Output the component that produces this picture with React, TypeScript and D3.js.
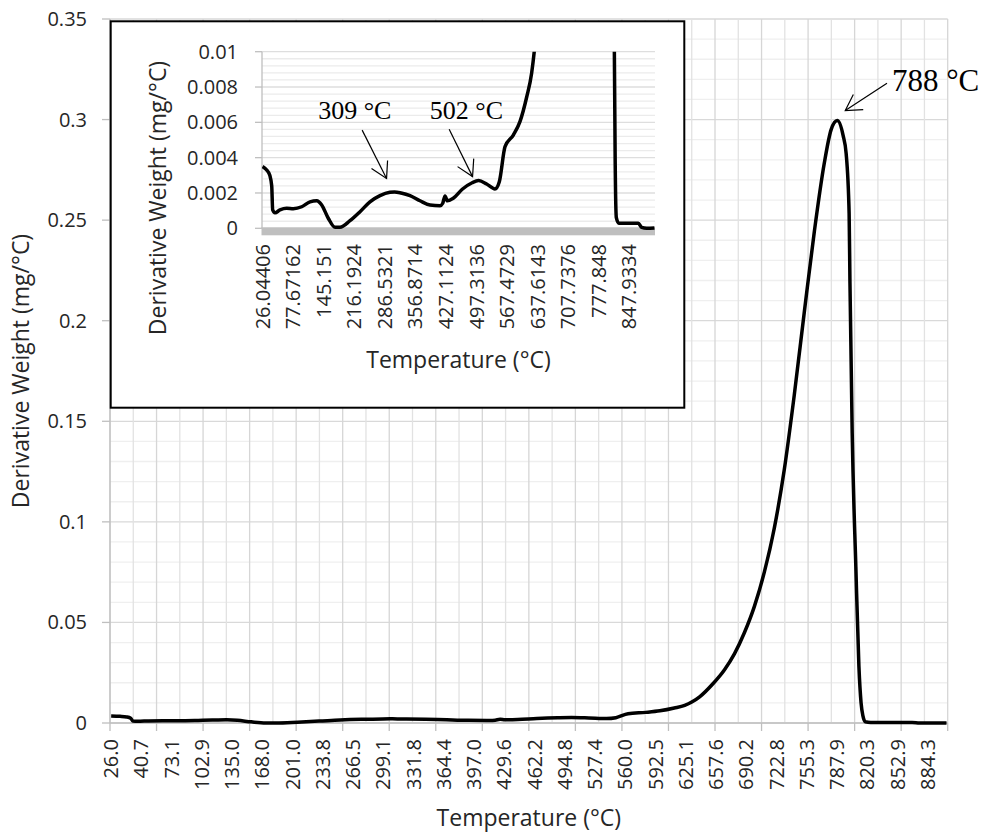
import React from "react";
import * as d3 from "d3";

// DTG curve: temperature (°C) and derivative weight (mg/°C)
const temperature = [
  26.0, 30.3, 33.5, 35.5, 36.5, 38.9, 48.2, 63.4, 78.1, 95.8, 114.0, 129.1, 140.6, 155.8,
  171.6, 183.0, 206.3, 229.5, 252.4, 275.5, 298.3, 309, 324.0, 344.6, 367.4, 390.5, 413.6,
  419.7, 425.0, 430.1, 443.9, 464.5, 487.3, 502, 520.6, 539.7, 549.7, 562.8, 581.8, 597.0,
  612.6, 623.8, 631.4, 639.8, 654.1, 666.6, 677.4, 688.1, 698.8, 709.5, 720.3, 731.0, 741.7,
  752.4, 763.2, 773.9, 781.4, 788, 794.3, 797.5, 800.7, 801.6, 804.0, 807.9, 811.2, 813.5,
  815.5, 818, 823.8, 867.9, 875.4, 886.5, 903.6,
];
const derivWeight = [
  0.0035, 0.0033, 0.003, 0.0024, 0.00104, 0.00088, 0.00104, 0.00113, 0.00111, 0.00122,
  0.0015, 0.00156, 0.00132, 0.00057, 0.00006, 0.00006, 0.00043, 0.00094, 0.0015, 0.00185,
  0.00204, 0.00206, 0.002, 0.00185, 0.00156, 0.00132, 0.00128, 0.00142, 0.00183, 0.00156,
  0.0017, 0.00221, 0.00258, 0.0027, 0.00251, 0.00223, 0.00264, 0.00462, 0.00528, 0.00604,
  0.00745, 0.00878, 0.0104, 0.013, 0.0195, 0.0265, 0.0345, 0.045, 0.058, 0.075, 0.097,
  0.126, 0.163, 0.204, 0.244, 0.278, 0.295, 0.2995, 0.292, 0.2832, 0.2534, 0.2187, 0.144,
  0.0777, 0.028, 0.01, 0.0035, 0.0006, 0.00028, 0.00028, 0.00005, 0, 0.00002,
];

// Category axis: 360 readings, main chart labels every 13th reading
const readingCount = 360;
const mainLabelStep = 13;
const mainTickStep = 20;
const mainGridStep = 10;
const mainTickTemps = [
  26.0, 40.7, 73.1, 102.9, 135.0, 168.0, 201.0, 233.8, 266.5, 299.1, 331.8, 364.4, 397.0,
  429.6, 462.2, 494.8, 527.4, 560.0, 592.5, 625.1, 657.6, 690.2, 722.8, 755.3, 787.9, 820.3,
  852.9, 884.3,
];
const mainTickLabels = mainTickTemps.map((t) => t.toFixed(1));
const mainYTicks = [0, 0.05, 0.1, 0.15, 0.2, 0.25, 0.3, 0.35];
const mainYLabels = ["0", "0.05", "0.1", "0.15", "0.2", "0.25", "0.3", "0.35"];

// Inset: labels every 28th reading
const insetLabelStep = 28;
const insetTickLabels = [
  "26.04406", "77.67162", "145.151", "216.1924", "286.5321", "356.8714", "427.1124",
  "497.3136", "567.4729", "637.6143", "707.7376", "777.848", "847.9334",
];
const insetYTicks = [0, 0.002, 0.004, 0.006, 0.008, 0.01];
const insetYLabels = ["0", "0.002", "0.004", "0.006", "0.008", "0.01"];

// Peak annotations
const peakTemps = [309, 502, 788];
const peakLabels = ["309 °C", "502 °C", "788 °C"];

const W = 985;
const H = 835;
const SANS = "'Open Sans', 'Noto Sans', sans-serif";
const SERIF = "'Liberation Serif', 'DejaVu Serif', serif";
const TEXT = "#262626";

function Arrow({ x0, y0, x1, y1 }: { x0: number; y0: number; x1: number; y1: number }) {
  const ang = Math.atan2(y0 - y1, x0 - x1);
  const len = 18;
  const spread = (30 * Math.PI) / 180;
  const a = [ang - spread, ang + spread].map((t) => [x1 + len * Math.cos(t), y1 + len * Math.sin(t)]);
  return (
    <g stroke="#000" strokeWidth={1.2} fill="none">
      <line x1={x0} y1={y0} x2={x1} y2={y1} />
      <polyline points={`${a[0][0]},${a[0][1]} ${x1},${y1} ${a[1][0]},${a[1][1]}`} />
    </g>
  );
}

export default function App() {
  const points = temperature.map((t, i) => ({ t, v: derivWeight[i] }));

  // temperature -> reading index (piecewise through the labelled readings)
  const toIndex = d3
    .scaleLinear()
    .domain(mainTickTemps)
    .range(mainTickTemps.map((_, i) => i * mainLabelStep));

  // ---- main plot scales
  const mLeft = 110, mRight = 947.7, mTop = 19, mBottom = 723;
  const xMain = d3.scaleLinear().domain([0, readingCount]).range([mLeft, mRight]);
  const yMain = d3.scaleLinear().domain([0, 0.35]).range([mBottom, mTop]);
  const mainLine = d3
    .line<{ t: number; v: number }>()
    .x((d) => xMain(toIndex(d.t) + 0.5))
    .y((d) => yMain(d.v))
    .curve(d3.curveMonotoneX);

  // ---- inset scales
  const iLeft = 262, iRight = 655, iTop = 51.7, iBottom = 228.3;
  const xIn = d3.scaleLinear().domain([0, readingCount]).range([iLeft, iRight]);
  const yIn = d3.scaleLinear().domain([0, 0.01]).range([iBottom, iTop]);
  const insetLine = d3
    .line<{ t: number; v: number }>()
    .x((d) => xIn(toIndex(d.t) + 0.5))
    .y((d) => yIn(d.v))
    .curve(d3.curveMonotoneX);

  const minorY = d3.range(0, 0.35 + 1e-9, 0.01);
  const vGrid = d3.range(0, readingCount + 1, mainGridStep);
  const xTicks = d3.range(0, readingCount + 1, mainTickStep);
  const insetGrid = d3.range(0, 0.01 + 1e-9, 0.0004);

  const valueAt = (t: number) => {
    const p = points.find((d) => d.t === t);
    return p ? p.v : 0;
  };

  // annotation geometry
  const a309 = { x: xIn(toIndex(peakTemps[0]) + 0.5) - 8, y: yIn(valueAt(peakTemps[0])) - 13.5 };
  const a502 = { x: xIn(toIndex(peakTemps[1]) + 0.5) - 6, y: yIn(valueAt(peakTemps[1])) - 4 };
  const a788 = { x: xMain(toIndex(peakTemps[2]) + 0.5) + 8, y: yMain(valueAt(peakTemps[2])) - 10 };

  return (
    <svg
      width={W}
      height={H}
      viewBox={`0 0 ${W} ${H}`}
      style={{ position: "absolute", left: 0, top: 0, background: "#fff" }}
    >
      <rect x={0} y={0} width={W} height={H} fill="#fff" />

      {/* main gridlines */}
      {minorY.map((v, i) => (
        <line key={`my${i}`} x1={mLeft} x2={mRight} y1={yMain(v)} y2={yMain(v)}
          stroke={i % 5 === 0 ? "#d9d9d9" : "#efefef"} strokeWidth={1.3} />
      ))}
      {vGrid.map((g, i) => (
        <line key={`vg${i}`} x1={xMain(g)} x2={xMain(g)} y1={mTop} y2={mBottom}
          stroke={i % 2 === 0 ? "#d6d6d6" : "#e2e2e2"} strokeWidth={1.3} />
      ))}

      {/* main axes */}
      <line x1={mLeft} x2={mLeft} y1={mTop} y2={mBottom} stroke="#bfbfbf" strokeWidth={1.3} />
      <line x1={mLeft} x2={mRight} y1={mBottom} y2={mBottom} stroke="#bfbfbf" strokeWidth={1.3} />
      {mainYTicks.map((v, i) => (
        <g key={`yt${i}`}>
          <line x1={mLeft - 8} x2={mLeft} y1={yMain(v)} y2={yMain(v)} stroke="#bfbfbf" strokeWidth={1.3} />
          <text x={87} y={yMain(v)} dy="0.35em" textAnchor="end" fontFamily={SANS} fontSize={20} fill={TEXT}>
            {mainYLabels[i]}
          </text>
        </g>
      ))}
      {xTicks.map((g, i) => (
        <line key={`xt${i}`} x1={xMain(g)} x2={xMain(g)} y1={mBottom} y2={mBottom + 8} stroke="#bfbfbf" strokeWidth={1.3} />
      ))}
      {mainTickLabels.map((lab, i) => (
        <text key={`xl${i}`}
          transform={`translate(${xMain(i * mainLabelStep + 0.5)},739) rotate(-90)`}
          dy="0.35em" textAnchor="end" fontFamily={SANS} fontSize={20} fill={TEXT}>
          {lab}
        </text>
      ))}
      <text x={(mLeft + mRight) / 2} y={826} textAnchor="middle" fontFamily={SANS} fontSize={23} fill={TEXT}>
        Temperature (°C)
      </text>
      <text transform={`translate(29,${(mTop + mBottom) / 2}) rotate(-90)`} textAnchor="middle"
        fontFamily={SANS} fontSize={23} fill={TEXT}>
        Derivative Weight (mg/°C)
      </text>

      {/* main curve */}
      <path d={mainLine(points) || ""} fill="none" stroke="#000" strokeWidth={3.5} strokeLinejoin="round" />

      {/* inset chart */}
      <rect x={110.7} y={21.3} width={684.3 - 110.7} height={407.7 - 21.3} fill="#fff" stroke="#000" strokeWidth={2} />
      {insetGrid.map((v, i) => (
        <line key={`ig${i}`} x1={iLeft} x2={iRight} y1={yIn(v)} y2={yIn(v)}
          stroke={i % 5 === 0 ? "#dedede" : "#ebebeb"} strokeWidth={1.3} />
      ))}
      <line x1={iLeft} x2={iLeft} y1={iTop} y2={iBottom} stroke="#bfbfbf" strokeWidth={1.3} />
      {insetYTicks.map((v, i) => (
        <g key={`iy${i}`}>
          <line x1={iLeft - 7} x2={iLeft} y1={yIn(v)} y2={yIn(v)} stroke="#bfbfbf" strokeWidth={1.3} />
          <text x={238} y={yIn(v)} dy="0.35em" textAnchor="end" fontFamily={SANS} fontSize={20} fill={TEXT}>
            {insetYLabels[i]}
          </text>
        </g>
      ))}
      <rect x={iLeft - 0.5} y={iBottom - 1} width={iRight - iLeft + 0.5} height={8} fill="#bfbfbf" />
      {insetTickLabels.map((lab, i) => (
        <text key={`ix${i}`}
          transform={`translate(${xIn(i * insetLabelStep + 0.5)},244) rotate(-90)`}
          dy="0.35em" textAnchor="end" fontFamily={SANS} fontSize={20} fill={TEXT}>
          {lab}
        </text>
      ))}
      <text x={(iLeft + iRight) / 2} y={368} textAnchor="middle" fontFamily={SANS} fontSize={23} fill={TEXT}>
        Temperature (°C)
      </text>
      <text transform={`translate(166,198) rotate(-90)`} textAnchor="middle"
        fontFamily={SANS} fontSize={23} fill={TEXT}>
        Derivative Weight (mg/°C)
      </text>
      <defs>
        <clipPath id="insetClip">
          <rect x={iLeft} y={iTop} width={iRight - iLeft} height={iBottom - iTop + 12} />
        </clipPath>
      </defs>
      <path d={insetLine(points) || ""} fill="none" stroke="#000" strokeWidth={3.5}
        strokeLinejoin="round" clipPath="url(#insetClip)" />

      {/* peak annotations */}
      <Arrow x0={a309.x - 24.4} y0={a309.y - 48.3} x1={a309.x} y1={a309.y} />
      <text x={a309.x - 24.4 - 44} y={a309.y - 48.3 - 10.7} fontFamily={SERIF} fontSize={26} fill="#000">
        {peakLabels[0]}
      </text>
      <Arrow x0={a502.x - 23.4} y0={a502.y - 47.4} x1={a502.x} y1={a502.y} />
      <text x={a502.x - 23.4 - 19.3} y={a502.y - 47.4 - 10} fontFamily={SERIF} fontSize={26} fill="#000">
        {peakLabels[1]}
      </text>
      <Arrow x0={a788.x + 41.7} y0={a788.y - 27.4} x1={a788.x} y1={a788.y} />
      <text x={a788.x + 41.7 + 5} y={a788.y - 27.4 + 7.7} fontFamily={SERIF} fontSize={31} fill="#000">
        {peakLabels[2]}
      </text>
    </svg>
  );
}
